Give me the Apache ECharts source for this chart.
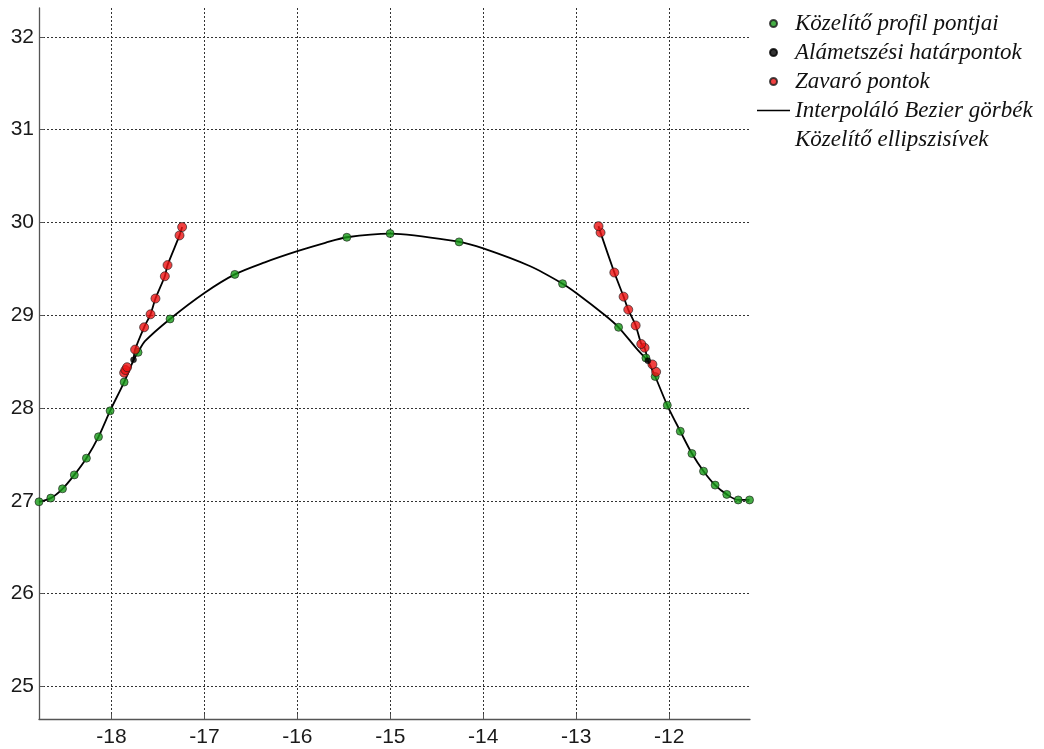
<!DOCTYPE html>
<html>
<head>
<meta charset="utf-8">
<script src="https://cdn.jsdelivr.net/npm/echarts@6/dist/echarts.min.js"></script>
<style>html,body{margin:0;padding:0;background:#fff}#c{width:1044px;height:749px}</style>
</head>
<body>
<div id="c"></div>
<script>
// Közelítő profil pontjai (green)
const greenX = [-18.78, -18.653, -18.527, -18.40, -18.27, -18.14, -18.015, -17.864, -17.714, -17.37, -16.673, -15.468, -15.002, -14.26, -13.147, -12.544, -12.25, -12.15, -12.02, -11.88, -11.755, -11.63, -11.505, -11.38, -11.257, -11.135];
const greenY = [26.99, 27.03, 27.13, 27.28, 27.46, 27.69, 27.97, 28.28, 28.60, 28.96, 29.44, 29.84, 29.88, 29.79, 29.34, 28.87, 28.54, 28.34, 28.03, 27.75, 27.51, 27.32, 27.17, 27.07, 27.01, 27.01];
// Alámetszési határpontok (black)
const blackX = [-17.763, -12.229];
const blackY = [28.52, 28.51];
// Zavaró pontok (red), left and right branch
const redLeftX = [-17.864, -17.85, -17.832, -17.746, -17.649, -17.58, -17.527, -17.426, -17.397, -17.268, -17.24];
const redLeftY = [28.38, 28.41, 28.44, 28.63, 28.87, 29.01, 29.18, 29.42, 29.54, 29.86, 29.95];
const redRightX = [-12.14, -12.18, -12.264, -12.30, -12.36, -12.44, -12.49, -12.59, -12.738, -12.76];
const redRightY = [28.39, 28.47, 28.65, 28.69, 28.89, 29.06, 29.20, 29.46, 29.89, 29.96];
// Közelítő ellipszisív (arc between the two boundary points)
const arcX = [-17.763, -17.714, -17.64, -17.37, -17.0, -16.673, -16.35, -16.0, -15.70, -15.468, -15.002, -14.26, -14.0, -13.5, -13.147, -13.0, -12.69, -12.544, -12.35, -12.229];
const arcY = [28.52, 28.60, 28.72, 28.96, 29.24, 29.44, 29.57, 29.69, 29.78, 29.84, 29.88, 29.79, 29.72, 29.53, 29.34, 29.24, 29.0, 28.87, 28.64, 28.51];
const xTicks = [-18, -17, -16, -15, -14, -13, -12];
const yTicks = [25, 26, 27, 28, 29, 30, 31, 32];
const names = ['Közelítő profil pontjai', 'Alámetszési határpontok', 'Zavaró pontok', 'Interpoláló Bezier görbék', 'Közelítő ellipszisívek'];

const zip = (xs, ys) => xs.map((x, i) => [x, ys[i]]);
const green = zip(greenX, greenY);
const black = zip(blackX, blackY);
const redL = zip(redLeftX, redLeftY);
const redR = zip(redRightX, redRightY);
const red = redL.concat(redR);
const arc = zip(arcX, arcY);
// Bezier pieces: lower flanks (green up to boundary point) and disturbing-point branches
const leftLower = green.filter(p => p[0] <= -17.8).concat([black[0]]);
const rightLower = [black[1]].concat(green.filter(p => p[0] >= -12.2));
const leftBranch = [black[0]].concat(redL.filter(p => p[1] > black[0][1]));
const rightBranch = [black[1]].concat(redR.filter(p => p[1] > black[1][1]));

const chart = echarts.init(document.getElementById('c'));
const lineStyle = { color: '#000', width: 1.8 };
const pointBorder = { borderColor: '#1a1a1a', borderWidth: 0.8 };
const lineSeries = (name, data, smooth) => ({ name, type: 'line', data, showSymbol: false, symbol: 'none', smooth, lineStyle, itemStyle: { color: '#000' }, z: 2 });
const axisCommon = {
  type: 'value', minInterval: 1, maxInterval: 1,
  axisLine: { show: true, onZero: false, lineStyle: { color: '#555', width: 1.3 } },
  axisTick: { show: true, inside: true, length: 5, lineStyle: { color: '#555' } },
  splitLine: { show: true, showMinLine: false, showMaxLine: false, lineStyle: { color: '#333', type: [2, 2], width: 1 } }
};
chart.setOption({
  animation: false,
  backgroundColor: '#fff',
  grid: { left: 39, right: 294, top: 8, bottom: 30, containLabel: false },
  xAxis: Object.assign({}, axisCommon, {
    min: -18.78, max: -11.13,
    axisLabel: { fontFamily: 'Liberation Sans', fontSize: 21, color: '#1a1a1a', margin: 8, showMinLabel: false, showMaxLabel: false,
      formatter: v => xTicks.includes(Math.round(v * 1000) / 1000) ? String(v) : '' }
  }),
  yAxis: Object.assign({}, axisCommon, {
    min: 24.65, max: 32.31,
    axisLabel: { fontFamily: 'Liberation Sans', fontSize: 21, color: '#1a1a1a', margin: 5, showMinLabel: false, showMaxLabel: false,
      formatter: v => yTicks.includes(Math.round(v * 1000) / 1000) ? String(v) : '' }
  }),
  legend: {
    orient: 'vertical', left: 752, top: 7, itemWidth: 33, itemHeight: 7, itemGap: 6,
    textStyle: { fontFamily: 'Liberation Serif', fontStyle: 'italic', fontSize: 23, color: '#111', lineHeight: 23 },
    data: [
      { name: names[0], icon: 'circle' },
      { name: names[1], icon: 'circle' },
      { name: names[2], icon: 'circle' },
      { name: names[3], icon: 'path://M0,0L100,0L100,5L0,5Z', itemStyle: { color: '#000' } },
      { name: names[4], icon: 'none' }
    ]
  },
  series: [
    lineSeries(names[4], arc, 0.3),
    lineSeries(names[3], leftLower, 0.3),
    lineSeries(names[3], rightLower, 0.3),
    lineSeries(names[3], leftBranch, 0.2),
    lineSeries(names[3], rightBranch, 0.2),
    { name: names[0], type: 'scatter', data: green, symbolSize: 8, itemStyle: Object.assign({ color: '#179a17' }, pointBorder), z: 3 },
    { name: names[2], type: 'scatter', data: red, symbolSize: 9, itemStyle: Object.assign({ color: '#ee1111' }, pointBorder), z: 4 },
    { name: names[1], type: 'scatter', data: black, symbolSize: 6, itemStyle: { color: '#000', borderColor: '#000', borderWidth: 0.5 }, z: 5 }
  ]
});
</script>
</body>
</html>
